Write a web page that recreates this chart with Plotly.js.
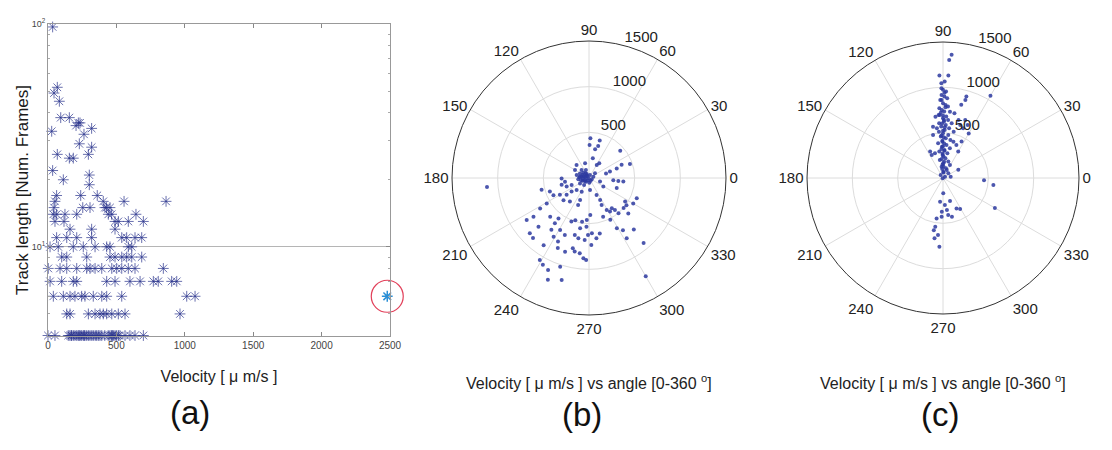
<!DOCTYPE html>
<html>
<head>
<meta charset="utf-8">
<script src="https://cdn.plot.ly/plotly-3.0.1.min.js"></script>
<style>html,body{margin:0;padding:0;background:#fff;}#chart{width:1112px;height:450px;}</style>
</head>
<body>
<div id="chart"></div>
<script>
// ---------- Panel (a): track length vs velocity ----------
const velA = [
  34, 68, 44, 83, 93, 156, 222, 234, 205, 319, 27, 263, 229, 319, 295, 68, 156, 185, 34, 112, 302, 302,
  63, 239, 360, 51, 44, 254, 307, 404, 428, 453, 441, 416, 465, 556, 863, 39, 63, 51, 124, 117, 210,
  490, 514, 587, 643, 697, 161, 319, 490,
  63, 137, 210, 319, 539, 575, 636, 685,
  15, 75, 185, 258, 344, 429, 453, 587, 612,
  100, 137, 283, 453, 490, 539, 575, 612, 685,
  2, 88, 137, 210, 283, 307, 344, 393, 466, 502, 539, 587, 636, 843,
  15, 100, 185, 210, 429, 490, 599, 673, 770, 806, 904, 941,
  39, 112, 161, 197, 246, 270, 331, 393, 429, 539, 1014, 1075,
  137, 161, 295, 344, 380, 404, 429, 466, 514, 563, 965,
  0, 51, 148, 173, 197, 221, 246, 270, 295, 331, 368, 393, 453, 477, 502, 526, 563, 599, 636, 697,
  160, 185, 210, 235, 258, 283, 307, 356, 380, 415, 440, 465, 490, 515, 170, 228, 265, 320, 345, 470
];
const lenA = [
  97, 52, 49, 45, 38, 38, 36, 36, 35, 34, 33, 32, 29, 28, 26, 26, 25, 25, 22, 20, 21, 19,
  17, 17, 17, 16, 15, 15, 15, 16, 15, 15, 14, 15, 14, 16, 16, 14, 14, 13, 14, 13, 14,
  13, 13, 13, 14, 13, 12, 12, 12,
  11, 11, 11, 11, 11, 11, 11, 11,
  10, 10, 10, 10, 10, 10, 10, 10, 10,
  9, 9, 9, 9, 9, 9, 9, 9, 9,
  8, 8, 8, 8, 8, 8, 8, 8, 8, 8, 8, 8, 8, 8,
  7, 7, 7, 7, 7, 7, 7, 7, 7, 7, 7, 7,
  6, 6, 6, 6, 6, 6, 6, 6, 6, 6, 6, 6,
  5, 5, 5, 5, 5, 5, 5, 5, 5, 5, 5,
  4, 4, 4, 4, 4, 4, 4, 4, 4, 4, 4, 4, 4, 4, 4, 4, 4, 4, 4, 4,
  4, 4, 4, 4, 4, 4, 4, 4, 4, 4, 4, 4, 4, 4, 4, 4, 4, 4, 4, 4
];
const outlierVel = [2480];
const outlierLen = [6];

const xTickVals = [0, 500, 1000, 1500, 2000, 2500];
const xTickText = ['0', '500', '1000', '1500', '2000', '2500'];
const yTickVals = [10, 100];
const yTickText = ['10<sup>1</sup>', '10<sup>2</sup>'];
const yMinorVals = [5, 6, 7, 8, 9, 20, 30, 40, 50, 60, 70, 80, 90];

// ---------- Panel (b): velocity vs angle ----------
const rB = [
  435, 426, 362, 365, 321, 453, 219, 196, 165, 166, 196, 385, 474, 321, 240, 193,
  111, 85, 51, 35, 82, 44, 8, 33, 118, 75, 52, 51, 115, 94, 139, 28, 50, 83, 119, 177, 49, 34, 106, 77, 94,
  60, 70, 40, 90, 65, 30, 100, 55,
  127, 183, 267, 323, 378, 323,
  300, 266, 262, 205, 309,
  535, 453, 433, 368, 307, 242, 188, 170,
  132, 204, 269, 260, 318, 332, 370,
  540, 631, 742, 823, 769, 886, 899, 888,
  601, 555, 621, 701, 652, 677, 752, 774,
  515, 485, 485, 461, 405, 534, 560, 643, 671, 680, 734, 624,
  327, 400, 434, 415, 451, 503, 472, 507, 502, 579, 559, 568,
  452, 514, 629, 682, 779, 748, 930,
  618, 666, 607,
  789, 821, 848, 840, 831, 882, 898,
  1046, 1076, 1102, 1022, 1202, 1156,
  1242, 1121
];
const thetaB = [
  88, 74, 89, 74, 78, 41, 79, 55, 59, 105, 134, 22, 19, 19, 17, 15,
  153, 137, 120, 72, 170, 171, 206, 333, 187, 203, 231, 274, 211, 235, 166, 130, 17, 38, 133, 150, 207, 302, 176, 155, 111,
  160, 185, 145, 195, 125, 240, 170, 215,
  342, 329, 355, 354, 354, 340,
  181, 189, 201, 202, 194,
  194, 199, 206, 210, 217, 218, 224, 242,
  275, 294, 297, 248, 248, 231, 221,
  211, 212, 215, 214, 224, 223, 227, 236,
  225, 233, 233, 234, 241, 247, 239, 244,
  248, 252, 261, 267, 272, 267, 260, 256, 260, 266, 272, 269,
  295, 299, 302, 307, 309, 310, 327, 324, 319, 318, 330, 337,
  290, 297, 299, 303, 302, 311, 310,
  281, 277, 273,
  257, 259, 252, 246, 263, 266, 268,
  239, 242, 246, 252, 248, 255,
  300, 185
];

// ---------- Panel (c): velocity vs angle ----------
const rC = [
  1362, 1304, 1130, 1132, 1045, 1064,
  990, 972, 954, 916, 898, 880, 862, 824, 806, 790,
  770, 751, 733, 736, 696, 678, 659, 643, 622, 605,
  611, 586, 567, 553, 530, 513, 524, 493, 478, 457,
  439, 428, 401, 386, 367, 346, 337, 309, 294, 276,
  254, 219, 201, 190, 162, 126, 112, 70, 78, 42,
  27, 86, 5, 97, 163,
  940, 860, 780, 720, 690, 640, 600, 560, 520, 470, 450, 410, 380, 350, 320, 300, 270, 240, 210, 180, 150, 130, 100, 60,
  935, 895, 832, 1047, 682, 697, 726, 615, 592, 644,
  685, 662, 577, 553, 487, 567, 324, 283, 286, 336,
  394, 451, 417, 191, 453, 561, 661,
  169, 263, 299, 265, 367, 390, 372, 413, 438, 451,
  545, 584, 631, 672, 759, 427, 356
];
const thetaC = [
  86, 87, 92, 87, 91, 89,
  91, 90, 88, 91, 89, 87, 92, 90, 88, 86,
  93, 91, 89, 84, 93, 87, 90, 85, 89, 94,
  81, 87, 92, 83, 88, 95, 77, 90, 83, 93,
  86, 79, 91, 98, 84, 92, 77, 87, 98, 80,
  91, 83, 100, 72, 89, 97, 73, 87, 41, 128,
  34, 10, 225, 65, 62,
  89, 91, 88, 92, 90, 89, 91, 88, 90, 92, 89, 91, 88, 90, 93, 87, 91, 89, 94, 86, 92, 88, 95, 85,
  74, 74, 76, 60, 97, 94, 80, 72, 68, 65,
  69, 75, 101, 97, 103, 60, 116, 116, 108, 60,
  68, 63, 74, 28, 357, 352, 330,
  271, 263, 274, 287, 294, 299, 268, 278, 283, 261,
  261, 260, 265, 262, 267, 268, 277
];

const angTickVals = [0, 30, 60, 90, 120, 150, 180, 210, 240, 270, 300, 330];
const angTickText = ['0', '30', '60', '90', '120', '150', '180', '210', '240', '270', '300', '330'];
const radTickVals = [500, 1000, 1500];
const radTickText = ['500', '1000', '1500'];
const radLabelAngle = [75, 75, 75];

const xTitleA = 'Velocity [ \u03bc m/s ]';
const yTitleA = 'Track length [Num. Frames]';
const polarCaption = 'Velocity [ \u03bc m/s ] vs angle [0-360 <sup>o</sup>]';
const panelLabels = ['(a)', '(b)', '(c)'];

const W = 1112, H = 450;
const px = v => v / W;
const py = v => 1 - v / H;

const dotColor = 'rgba(45,58,160,0.85)';
const narrow = 'Liberation Sans Narrow, Arial Narrow, Liberation Sans, Arial, sans-serif';
const sans = 'Liberation Sans, Arial, Helvetica, sans-serif';

function radLabels(subplot) {
  return {
    type: 'scatterpolar', mode: 'text', r: radTickVals, theta: radLabelAngle, text: radTickText,
    subplot: subplot, textposition: 'top right', cliponaxis: false, hoverinfo: 'skip',
    textfont: {family: sans, size: 15, color: '#222'}
  };
}

const traces = [
  {
    type: 'scatter', mode: 'markers', x: velA, y: lenA, xaxis: 'x', yaxis: 'y',
    cliponaxis: false,
    marker: {symbol: 'asterisk-open', size: 9, color: 'rgba(40,50,140,0.7)', line: {color: 'rgba(40,50,140,0.7)', width: 1}}
  },
  {
    type: 'scatter', mode: 'markers', x: outlierVel, y: outlierLen, xaxis: 'x', yaxis: 'y',
    cliponaxis: false,
    marker: {symbol: 'asterisk-open', size: 9, color: '#2a8fd6', line: {color: '#2a8fd6', width: 1.5}}
  },
  {
    type: 'scatter', mode: 'markers', x: outlierVel, y: outlierLen, xaxis: 'x', yaxis: 'y',
    cliponaxis: false,
    marker: {symbol: 'circle-open', size: 32, color: '#e2405a', line: {color: '#e2405a', width: 1.2}}
  },
  {
    type: 'scatterpolar', mode: 'markers', r: rB, theta: thetaB, subplot: 'polar',
    marker: {size: 4, color: dotColor}
  },
  {
    type: 'scatterpolar', mode: 'markers', r: rC, theta: thetaC, subplot: 'polar2',
    marker: {size: 4, color: dotColor}
  },
  radLabels('polar'),
  radLabels('polar2')
];

function polarCfg(x0, x1, y0, y1) {
  return {
    domain: {x: [px(x0), px(x1)], y: [py(y1), py(y0)]},
    bgcolor: 'rgba(0,0,0,0)',
    radialaxis: {
      range: [0, 1500], tickmode: 'array', tickvals: radTickVals, ticktext: radTickText,
      angle: 80, showticklabels: false, showline: false, ticks: '', gridcolor: '#dcdcdc', gridwidth: 1
    },
    angularaxis: {
      rotation: 0, direction: 'counterclockwise', tickmode: 'array',
      tickvals: angTickVals, ticktext: angTickText, ticks: '',
      showline: true, linecolor: '#333', linewidth: 1, gridcolor: '#dcdcdc', gridwidth: 1,
      tickfont: {family: sans, size: 15, color: '#222'}
    }
  };
}

const layout = {
  width: W, height: H,
  margin: {l: 0, r: 0, t: 0, b: 0},
  paper_bgcolor: '#ffffff', plot_bgcolor: '#ffffff',
  showlegend: false,
  xaxis: {
    domain: [px(48), px(390)], range: [0, 2500], anchor: 'y',
    tickmode: 'array', tickvals: xTickVals, ticktext: xTickText,
    ticks: 'inside', ticklen: 4, tickcolor: '#888', showline: true, linecolor: '#999', mirror: 'ticks',
    showgrid: false, zeroline: false,
    tickfont: {family: narrow, size: 10, color: '#444'},
    title: {text: xTitleA, font: {family: narrow, size: 16, color: '#222'}, standoff: 20}
  },
  yaxis: {
    domain: [py(336), py(24)], type: 'log', range: [Math.log10(3.98), 2], anchor: 'x',
    tickmode: 'array', tickvals: yTickVals, ticktext: yTickText,
    ticks: 'inside', ticklen: 4, tickcolor: '#888', showline: true, linecolor: '#999', mirror: 'ticks',
    showgrid: true, gridcolor: '#b5b5b5', gridwidth: 1, zeroline: false,
    minor: {tickmode: 'array', tickvals: yMinorVals, ticks: 'inside', ticklen: 2, tickcolor: '#aaa', showgrid: false},
    tickfont: {family: narrow, size: 9, color: '#444'}
  },
  polar: polarCfg(452, 726, 41, 315),
  polar2: polarCfg(807, 1079, 41, 315),
  annotations: [
    {text: yTitleA, xref: 'paper', yref: 'paper', x: px(22), y: py(190), showarrow: false, textangle: -90,
     xanchor: 'center', yanchor: 'middle', font: {family: sans, size: 17, color: '#1a1a1a'}},
    {text: polarCaption, xref: 'paper', yref: 'paper', x: px(589), y: py(382), showarrow: false,
     xanchor: 'center', yanchor: 'middle', font: {family: sans, size: 16, color: '#222'}},
    {text: polarCaption, xref: 'paper', yref: 'paper', x: px(943), y: py(382), showarrow: false,
     xanchor: 'center', yanchor: 'middle', font: {family: sans, size: 16, color: '#222'}},
    {text: panelLabels[0], xref: 'paper', yref: 'paper', x: px(190), y: py(412), showarrow: false,
     xanchor: 'center', yanchor: 'middle', font: {family: sans, size: 33, color: '#111'}},
    {text: panelLabels[1], xref: 'paper', yref: 'paper', x: px(582), y: py(414), showarrow: false,
     xanchor: 'center', yanchor: 'middle', font: {family: sans, size: 33, color: '#111'}},
    {text: panelLabels[2], xref: 'paper', yref: 'paper', x: px(940), y: py(414), showarrow: false,
     xanchor: 'center', yanchor: 'middle', font: {family: sans, size: 33, color: '#111'}}
  ]
};

Plotly.newPlot('chart', traces, layout, {displayModeBar: false, staticPlot: true});
</script>
</body>
</html>
